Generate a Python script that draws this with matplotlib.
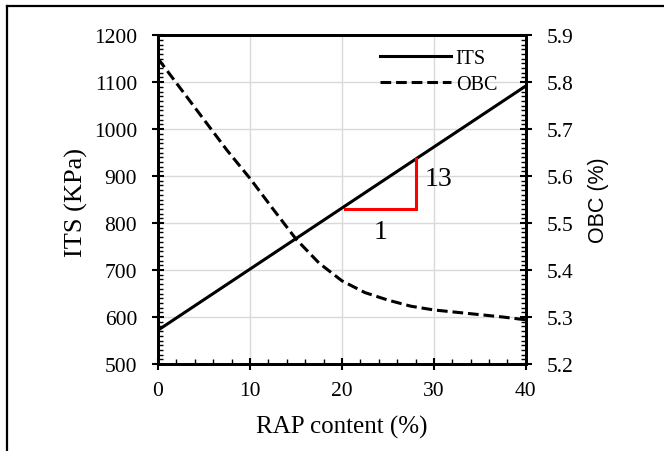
import matplotlib
matplotlib.use('Agg')
import matplotlib.pyplot as plt
from matplotlib.lines import Line2D
from matplotlib.ticker import MultipleLocator

plt.rcParams['font.family'] = ['Liberation Serif', 'DejaVu Serif']

# data
rap = [0, 10, 20, 30, 40]
its = [572, 702, 832, 962, 1092]

rap_obc = [0, 2.5, 5, 7.5, 10, 12.5, 15, 17.5, 20, 22.5, 25, 27.5, 30, 32.5, 35, 37.5, 40]
obc = [5.850, 5.785, 5.720, 5.655, 5.595, 5.530, 5.466, 5.415, 5.377,
       5.352, 5.336, 5.323, 5.315, 5.310, 5.305, 5.300, 5.294]

# slope triangle
tri_x = [20.3, 28, 28]
tri_y = [830, 830, 936]

fig = plt.figure(figsize=(6.64, 4.52), dpi=100)
ax = fig.add_axes([0.238, 0.1925, 0.554, 0.7275])
ax2 = ax.twinx()

l1, = ax.plot(rap, its, color='black', lw=2.2, label='ITS')
l2, = ax2.plot(rap_obc, obc, color='black', lw=2.2, ls=(0, (3.5, 1.6)), label='OBC')
ax.plot(tri_x, tri_y, color='red', lw=2.2, solid_joinstyle='miter')

ax.text(29.0, 895, '13', fontsize=20, ha='left', va='center')
ax.text(24.2, 781, '1', fontsize=20, ha='center', va='center')

ax.set_xlim(0, 40)
ax.set_ylim(500, 1200)
ax2.set_ylim(5.2, 5.9)

ax.xaxis.set_major_locator(MultipleLocator(10))
ax.xaxis.set_minor_locator(MultipleLocator(2))
ax.yaxis.set_major_locator(MultipleLocator(100))
ax.yaxis.set_minor_locator(MultipleLocator(10))
ax2.yaxis.set_major_locator(MultipleLocator(0.1))
ax2.yaxis.set_minor_locator(MultipleLocator(0.01))
ax2.yaxis.set_major_formatter(plt.FuncFormatter(lambda v, p: f'{v:.1f}'))

ax.grid(which='major', color='#d9d9d9', lw=1.0)
ax.set_axisbelow(True)

ax.tick_params(which='major', direction='inout', length=8, width=1.5, labelsize=15.5)
ax.tick_params(axis='x', which='major', pad=8)
ax.tick_params(axis='y', which='major', pad=11)
ax.tick_params(which='minor', direction='in', length=3.5, width=1.0)
ax.tick_params(axis='x', which='both', top=False)
ax2.tick_params(which='major', direction='inout', length=8, width=1.5, labelsize=15.5, pad=11)
ax2.tick_params(which='minor', direction='in', length=3.5, width=1.0)

for a in (ax, ax2):
    for s in a.spines.values():
        s.set_linewidth(2.0)

ax.set_xlabel('RAP content (%)', fontsize=18)
ax.set_ylabel('ITS (KPa)', fontsize=19)
ax2.set_ylabel('OBC (%)', fontsize=15.5, family='Liberation Sans')
ax.xaxis.set_label_coords(0.5, -0.191)
ax.yaxis.set_label_coords(-0.223, 0.495)
ax2.yaxis.set_label_coords(1.198, 0.5)
for lab in (ax.xaxis.label, ax.yaxis.label, ax2.yaxis.label):
    lab.set_verticalalignment('center')

leg = ax.legend([l1, l2], ['ITS', 'OBC'], loc='upper left', bbox_to_anchor=(0.582, 0.984),
                frameon=False, fontsize=14.5, handlelength=3.5, handletextpad=0.25,
                borderaxespad=0.0, labelspacing=0.38)

# outer frame of the image
fig.add_artist(Line2D([7/664, 1.0], [1 - 7/452, 1 - 7/452], color='black', lw=1.6,
                      transform=fig.transFigure))
fig.add_artist(Line2D([7/664, 7/664], [0.0, 1 - 7/452], color='black', lw=1.6,
                      transform=fig.transFigure))

plt.savefig('out.png', dpi=100)
